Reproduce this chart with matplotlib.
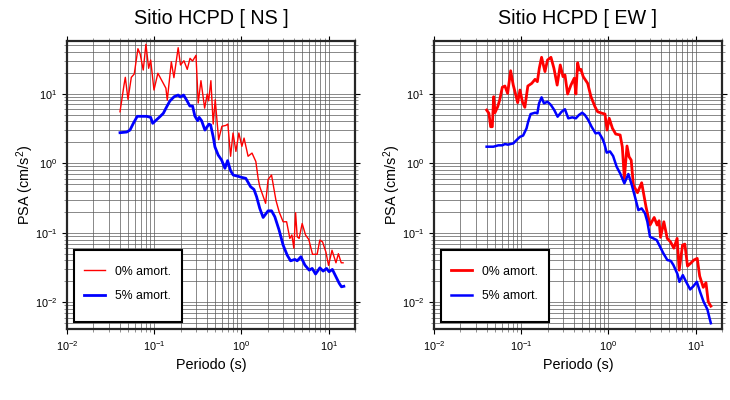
import numpy as np
import matplotlib
matplotlib.use('Agg')
import matplotlib.pyplot as plt
from matplotlib.patches import Rectangle

plt.rcParams['font.family'] = 'Liberation Sans'
plt.rcParams['mathtext.fontset'] = 'custom'
plt.rcParams['mathtext.rm'] = 'Liberation Sans'
plt.rcParams['mathtext.it'] = 'Liberation Sans'

# Data (period in s, PSA in cm/s^2)
ns_t0 = [0.0405, 0.045, 0.0466, 0.05, 0.0546, 0.059, 0.065, 0.069, 0.0748, 0.0803,
         0.0863, 0.091, 0.0993, 0.110, 0.127, 0.136, 0.141, 0.157, 0.168, 0.188,
         0.2, 0.219, 0.239, 0.257, 0.275, 0.301, 0.319, 0.343, 0.378, 0.405,
         0.42, 0.446, 0.474, 0.5, 0.547, 0.596, 0.662, 0.698, 0.75, 0.80,
         0.863, 0.933, 1.01, 1.07, 1.19, 1.32, 1.46, 1.55, 1.62, 1.89,
         2.02, 2.21, 2.48, 2.7, 3.0, 3.29, 3.58, 3.78, 3.98, 4.17,
         4.35, 4.58, 4.96, 5.42, 5.91, 6.52, 7.36, 7.9, 8.49, 9.27,
         9.95, 10.9, 12.1, 12.9, 13.9, 14.6]
ns_psa0 = [5.5, 13.3, 17.2, 8.3, 17.2, 19.2, 44.4, 37.2, 21.9, 51.4,
           23.2, 30.5, 11.3, 19.7, 14.1, 12.0, 8.1, 28.8, 17.0, 45.9,
           25.9, 29.8, 22.4, 32.3, 29.5, 35.7, 7.35, 15.4, 6.2, 9.9,
           7.9, 15.4, 3.66, 8.2, 2.18, 3.4, 3.5, 3.66, 1.26, 2.72,
           1.48, 2.72, 1.75, 2.3, 1.26, 1.4, 1.06, 0.61, 0.46, 0.265,
           0.586, 0.676, 0.295, 0.2, 0.144, 0.144, 0.083, 0.093, 0.06, 0.194,
           0.0875, 0.083, 0.136, 0.093, 0.08, 0.049, 0.049, 0.0785, 0.074, 0.053,
           0.034, 0.056, 0.037, 0.05, 0.037, 0.037]

ns_t5 = [0.0405, 0.0483, 0.0527, 0.0576, 0.0639, 0.0818, 0.091, 0.096, 0.116, 0.127,
         0.139, 0.151, 0.169, 0.188, 0.199, 0.217, 0.235, 0.256, 0.275, 0.292,
         0.314, 0.327, 0.349, 0.381, 0.424, 0.443, 0.474, 0.496, 0.541, 0.592,
         0.646, 0.693, 0.75, 0.804, 0.893, 1.0, 1.12, 1.27, 1.39, 1.49,
         1.62, 1.77, 2.02, 2.21, 2.41, 2.7, 3.0, 3.34, 3.65, 4.09,
         4.35, 4.8, 5.33, 5.97, 6.46, 7.06, 7.91, 8.63, 9.44, 10.1,
         11.0, 12.1, 13.2, 14.0, 14.9]
ns_psa5 = [2.75, 2.81, 3.0, 3.75, 4.73, 4.73, 4.57, 3.75, 4.67, 5.22,
           6.5, 7.85, 9.06, 9.57, 8.97, 9.57, 8.1, 6.65, 6.65, 4.78,
           4.09, 4.57, 4.09, 3.0, 3.66, 3.55, 2.4, 1.72, 1.31, 1.11,
           0.845, 1.09, 0.78, 0.676, 0.654, 0.627, 0.607, 0.46, 0.42, 0.33,
           0.224, 0.166, 0.207, 0.207, 0.17, 0.109, 0.0665, 0.0477, 0.0395, 0.0414,
           0.0395, 0.0452, 0.0343, 0.029, 0.0307, 0.0255, 0.0313, 0.0281, 0.0307, 0.0275,
           0.0297, 0.0233, 0.0187, 0.0167, 0.017]

ew_t0 = [0.0401, 0.0426, 0.0446, 0.0466, 0.0483, 0.05, 0.0537, 0.0566, 0.0607, 0.065,
         0.0698, 0.0756, 0.081, 0.0847, 0.091, 0.0967, 0.103, 0.11, 0.119, 0.132,
         0.144, 0.153, 0.161, 0.171, 0.187, 0.2, 0.219, 0.237, 0.258, 0.28,
         0.301, 0.317, 0.34, 0.371, 0.405, 0.423, 0.443, 0.462, 0.483, 0.513,
         0.577, 0.63, 0.7, 0.751, 0.85, 0.912, 0.962, 1.02, 1.11, 1.21,
         1.36, 1.44, 1.52, 1.63, 1.72, 1.82, 1.93, 2.15, 2.4, 2.69,
         2.99, 3.34, 3.61, 3.8, 3.95, 4.31, 4.71, 5.14, 5.61, 6.12,
         6.46, 7.06, 7.5, 8.05, 8.72, 9.51, 10.4, 11.1, 12.2, 13.1,
         13.9, 14.9]
ew_psa0 = [5.82, 5.22, 3.35, 3.35, 9.06, 5.33, 6.5, 8.1, 12.4, 12.9,
           10.1, 21.4, 13.3, 10.7, 7.43, 11.3, 7.67, 6.37, 12.9, 14.1,
           16.1, 14.9, 23.2, 33.4, 20.8, 30.5, 33.4, 23.2, 13.3, 25.9,
           17.6, 18.6, 9.9, 13.3, 16.7, 9.9, 27.9, 21.9, 22.4, 17.6,
           14.1, 9.06, 6.5, 5.5, 5.22, 5.1, 3.0, 4.43, 3.18, 2.63,
           2.55, 1.72, 0.607, 1.77, 1.24, 1.11, 0.485, 0.377, 0.524, 0.237,
           0.129, 0.166, 0.129, 0.149, 0.086, 0.144, 0.083, 0.074, 0.06, 0.083,
           0.029, 0.0665, 0.0687, 0.0332, 0.0363, 0.0405, 0.0428, 0.0238, 0.0164, 0.0191,
           0.0102, 0.0088]

ew_t5 = [0.0401, 0.048, 0.0546, 0.0607, 0.065, 0.0703, 0.081, 0.0885, 0.0967, 0.105,
         0.115, 0.12, 0.128, 0.144, 0.153, 0.16, 0.171, 0.182, 0.2, 0.219,
         0.239, 0.261, 0.29, 0.317, 0.346, 0.385, 0.423, 0.458, 0.5, 0.537,
         0.586, 0.64, 0.711, 0.776, 0.849, 0.895, 0.953, 1.04, 1.13, 1.24,
         1.36, 1.52, 1.69, 1.85, 2.01, 2.2, 2.4, 2.62, 2.79, 2.99,
         3.27, 3.57, 3.9, 4.26, 4.73, 5.17, 5.55, 6.17, 6.5, 7.11,
         7.76, 8.63, 9.42, 10.3, 11.2, 12.3, 13.6, 14.4, 14.9]
ew_psa5 = [1.73, 1.73, 1.81, 1.81, 1.89, 1.85, 1.93, 2.16, 2.4, 2.5,
           3.18, 3.95, 5.1, 5.33, 5.22, 7.27, 8.87, 7.27, 7.67, 6.87,
           5.82, 4.67, 5.5, 5.97, 4.43, 4.57, 4.43, 4.94, 5.33, 4.94,
           4.19, 3.35, 2.69, 2.75, 2.28, 1.93, 1.42, 1.48, 1.27, 0.891,
           0.715, 0.514, 0.7, 0.485, 0.33, 0.212, 0.224, 0.19, 0.144, 0.0875,
           0.083, 0.0785, 0.063, 0.0505, 0.0405, 0.0395, 0.0343, 0.0255, 0.0197, 0.0246,
           0.0197, 0.0153, 0.0171, 0.0197, 0.0142, 0.0102, 0.0079, 0.0059, 0.005]

titles = ['Sitio HCPD [ NS ]', 'Sitio HCPD [ EW ]']
labels = ['0% amort.', '5% amort.']

fig = plt.figure(figsize=(7.3, 4.0), dpi=100)
ax1 = fig.add_axes([67/730, 1-329/400, 288/730, 288/400])
ax2 = fig.add_axes([434/730, 1-329/400, 288/730, 288/400])

panels = [(ax1, ns_t0, ns_psa0, ns_t5, ns_psa5, 1.0, 2.0),
          (ax2, ew_t0, ew_psa0, ew_t5, ew_psa5, 2.0, 1.8)]

for i, (ax, t0, p0, t5, p5, lw0, lw5) in enumerate(panels):
    ax.plot(t0, p0, color='#ff0000', lw=lw0, label=labels[0], zorder=3)
    ax.plot(t5, p5, color='#0000ff', lw=lw5, label=labels[1], zorder=3)
    ax.set_xscale('log')
    ax.set_yscale('log')
    ax.set_xlim(0.01, 20)
    ax.set_ylim(0.00413, 57.3)
    ax.grid(True, which='both', color='0.35', lw=0.5)
    ax.set_axisbelow(True)
    for s in ax.spines.values():
        s.set_linewidth(1.6)
        s.set_color('0.15')
    ax.tick_params(which='both', direction='out', top=True, right=True, labelsize=7.8)
    ax.tick_params(which='major', length=3.5, width=0.8)
    ax.tick_params(which='minor', length=2.2, width=0.6, color='0.5')
    ax.xaxis.set_minor_formatter(matplotlib.ticker.NullFormatter())
    ax.yaxis.set_minor_formatter(matplotlib.ticker.NullFormatter())
    ax.set_title(titles[i], fontsize=14.2, pad=12)
    ax.set_xlabel('Periodo (s)', fontsize=10.4, labelpad=4)
    ax.set_ylabel('PSA (cm/s$^2$)', fontsize=10.4, labelpad=-1)

    # legend box (GMT style: extra space at the bottom)
    box = Rectangle((0.0243, 0.0243), 0.375, 0.25, transform=ax.transAxes,
                    facecolor='white', edgecolor='black', lw=1.5, zorder=4)
    ax.add_patch(box)
    leg = ax.legend(loc='upper left', bbox_to_anchor=(0.058, 0.22), fontsize=8.8,
                    frameon=False, borderpad=0, borderaxespad=0,
                    labelspacing=1.05, handlelength=1.75, handletextpad=0.85)
    leg.set_zorder(5)

fig.savefig('out.png', dpi=100)
